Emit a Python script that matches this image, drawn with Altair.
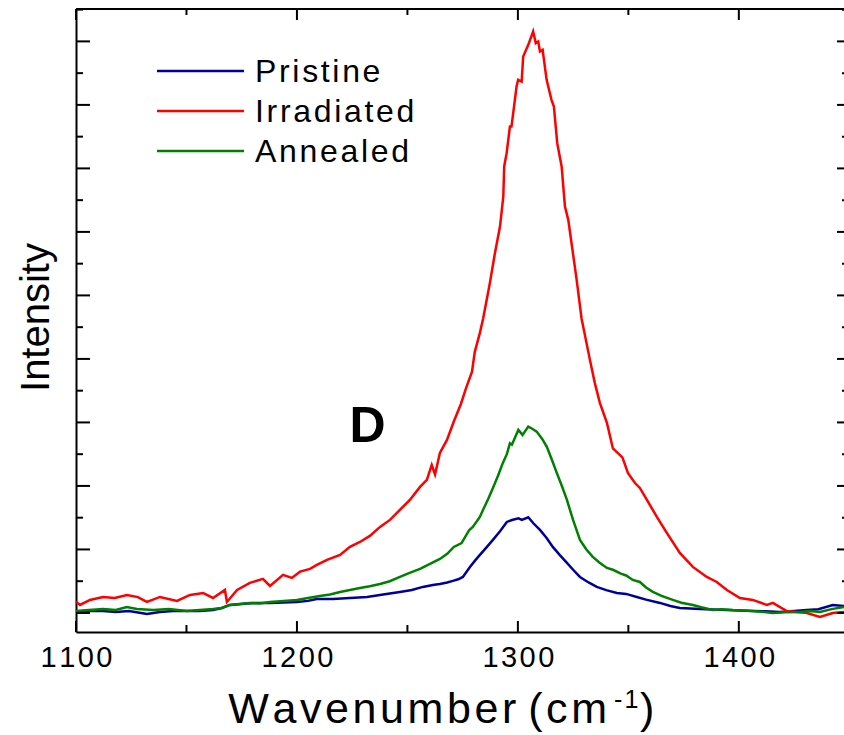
import altair as alt
import pandas as pd

# ---------------- data ----------------
series_names = ["Pristine", "Irradiated", "Annealed"]
series_colors = ["#000099", "#ff0000", "#008000"]

pristine = [
    (1100, 16), (1106, 31), (1112.2, 31), (1118, 16), (1124, 31), (1132.1, -16),
    (1138, 16), (1144, 31), (1150.2, 31), (1156, 31), (1162, 47), (1166, 79),
    (1169.7, 126), (1175, 142), (1180.1, 158), (1187.8, 158), (1194, 165),
    (1200, 173), (1205, 190), (1209, 220), (1216.3, 220), (1224, 236),
    (1231.7, 252), (1239, 290), (1246.6, 331), (1252, 362), (1257, 410),
    (1261.5, 440), (1264.7, 455), (1268, 480), (1270.6, 505), (1273, 530),
    (1275.1, 567), (1278.3, 725), (1280.5, 820), (1282.8, 914), (1285.5, 1020),
    (1288.7, 1150), (1292, 1290), (1295, 1433), (1297.3, 1464), (1300.3, 1491),
    (1301.8, 1465), (1304.7, 1507), (1307, 1412), (1310, 1307), (1313, 1180),
    (1315.8, 1040), (1319, 910), (1322.2, 788), (1325, 680), (1328.1, 567),
    (1332, 480), (1335.7, 410), (1340, 360), (1344.8, 315), (1349, 300),
    (1353.8, 252), (1358, 210), (1364.3, 158), (1369, 110), (1373.3, 79),
    (1378, 70), (1382.4, 63), (1388, 55), (1394.6, 47), (1400, 40),
    (1406.3, 31), (1412, 25), (1418.6, 16), (1425, 30), (1430.8, 47),
    (1436, 60), (1442.5, 126), (1447.6, 110),
]

irradiated = [
    (1100, 178), (1101.8, 126), (1106.3, 205), (1112.2, 252), (1117.5, 236),
    (1123.1, 284), (1128, 250), (1132.1, 173), (1138, 252), (1145.7, 189),
    (1151.6, 284), (1157.5, 315), (1162, 236), (1167.4, 362), (1168.3, 173),
    (1172.9, 362), (1178.7, 473), (1184.6, 536), (1187.8, 425), (1193.7, 599),
    (1197.7, 551), (1201.4, 650), (1205.9, 693), (1209, 756), (1213.6, 835),
    (1219.5, 914), (1224, 1040), (1228.5, 1118), (1233, 1213), (1237.6, 1355),
    (1242.1, 1465), (1246.6, 1622), (1251.1, 1780), (1255.7, 1985),
    (1258.8, 2095), (1261, 2330), (1262.5, 2180), (1264.7, 2520),
    (1267.9, 2725), (1271, 3015), (1274.2, 3290), (1276.5, 3536),
    (1279.2, 3796), (1280.5, 4111), (1282.8, 4410), (1284.3, 4641),
    (1287.3, 5193), (1289.6, 5665), (1291.9, 6084), (1293.4, 6557),
    (1293.8, 7030), (1294.9, 7240), (1296.4, 7659), (1297.1, 7659),
    (1299.4, 8289), (1300.1, 8395), (1301.7, 8368), (1302.4, 8762),
    (1304.7, 8946), (1306.9, 9156), (1308.1, 8973), (1309.2, 8998),
    (1310, 8841), (1311.2, 8867), (1313, 8395), (1315.2, 8080), (1316.3, 7974),
    (1317.8, 7398), (1319.8, 7030), (1321.3, 6399), (1322.8, 6190),
    (1326.6, 5245), (1328.8, 4641), (1332.6, 3985), (1334.8, 3623),
    (1337.1, 3308), (1340.3, 2993), (1343, 2590), (1347.3, 2450),
    (1349.8, 2205), (1352.9, 2050), (1355.2, 1969), (1358.4, 1780),
    (1362.9, 1512), (1367.4, 1260), (1373.3, 945), (1379.2, 725),
    (1385.5, 567), (1390, 488), (1394.6, 362), (1400.5, 236), (1406.3, 205),
    (1412.7, 126), (1415.4, 158), (1421.7, 31), (1430.8, 0), (1436.7, -63),
    (1442.5, 0), (1447.6, 16),
]

annealed = [
    (1100, 31), (1106, 47), (1112.2, 63), (1118, 47), (1123, 94), (1127.6, 63),
    (1135, 47), (1142, 63), (1150.2, 31), (1156, 47), (1162, 63), (1166, 79),
    (1169.7, 126), (1174, 142), (1178.7, 158), (1183, 150), (1187.8, 173),
    (1194, 189), (1200, 205), (1205, 236), (1210.4, 268), (1215, 290),
    (1219.5, 331), (1224, 362), (1228.5, 394), (1233, 420), (1237.6, 457),
    (1242, 500), (1246.6, 567), (1251, 630), (1255.7, 693), (1260, 770),
    (1264.7, 850), (1268, 930), (1271, 1040), (1274.5, 1100), (1278, 1307),
    (1279.6, 1355), (1282.8, 1512), (1284.2, 1622), (1286.5, 1790),
    (1288.7, 1969), (1291, 2160), (1293.2, 2363), (1295, 2500), (1296.4, 2672),
    (1297.3, 2650), (1300.2, 2882), (1302.1, 2804), (1304.7, 2935),
    (1306.5, 2900), (1308.5, 2856), (1311, 2740), (1313.1, 2615),
    (1315.3, 2420), (1317.6, 2205), (1320, 1990), (1322.2, 1780), (1325, 1460),
    (1328.1, 1150), (1331, 1000), (1333.9, 882), (1337, 790), (1340.3, 709),
    (1343, 680), (1346.6, 620), (1349, 590), (1352, 520), (1355.2, 488),
    (1358, 400), (1361.1, 331), (1365, 270), (1370.1, 205), (1374, 160),
    (1379.2, 126), (1383, 90), (1388.2, 47), (1392, 60), (1397.3, 47),
    (1402, 40), (1406.3, 31), (1410, 20), (1415.4, 0), (1421, 10),
    (1427.6, 16), (1432, 30), (1436.7, 16), (1442, 60), (1447.6, 94),
]

x_major = [1100, 1200, 1300, 1400]
x_minor = [1150, 1250, 1350]
y_major = [0, 1000, 2000, 3000, 4000, 5000, 6000, 7000, 8000, 9000]
y_minor = [500, 1500, 2500, 3500, 4500, 5500, 6500, 7500, 8500, 9500]

x_title_sup = "-1"
x_title_end = ")"
y_title = "Intensity"

annotation = [{"w": 1232, "c": 2693, "t": "D"}]

# ---------------- chart ----------------
W, H = 768, 623
FONT = "Liberation Sans"
HS = "\u200a"


def spaced(s):
    return HS.join(list(s))


rows = []
for name, pts in zip(series_names, [pristine, irradiated, annealed]):
    for w, c in pts:
        rows.append({"w": w, "c": c, "series": name})
df = pd.DataFrame(rows)

xs = alt.Scale(domain=[1100, 1447.6], nice=False, zero=False)
ys = alt.Scale(domain=[-300, 9510], nice=False, zero=False)

lines = alt.Chart(df).mark_line(strokeWidth=2.5).encode(
    x=alt.X(
        "w:Q", scale=xs, title=None,
        axis=alt.Axis(
            values=x_major, ticks=False, grid=False, domainWidth=2,
            domainColor="black", labelFont=FONT, labelFontSize=29,
            labelColor="black", labelPadding=11, format="d",
            labelExpr="join(split(datum.label, ''), '" + HS + "')",
            labelFlush=False, labelOverlap=False,
        ),
    ),
    y=alt.Y(
        "c:Q", scale=ys, title=y_title,
        axis=alt.Axis(
            labels=False, ticks=False, grid=False, domainWidth=2,
            domainColor="black", titleFont=FONT,
            titleFontSize=40, titleFontWeight="normal", titleColor="black",
            titleX=-28, titleY=308, titleAngle=-90,
            titleBaseline="alphabetic", titleAlign="center",
        ),
    ),
    color=alt.Color(
        "series:N",
        scale=alt.Scale(domain=series_names, range=series_colors),
        legend=None,
    ),
)


def tick_layer(vals, vertical, **enc):
    if vertical:
        d = pd.DataFrame({"w": vals})
        return alt.Chart(d).mark_rule(color="black", strokeWidth=2).encode(
            x=alt.X("w:Q", scale=xs, title=None), **enc)
    d = pd.DataFrame({"c": vals})
    return alt.Chart(d).mark_rule(color="black", strokeWidth=2).encode(
        y=alt.Y("c:Q", scale=ys, title=y_title), **enc)


ticks = [
    tick_layer(x_major, True, y=alt.value(H), y2=alt.value(H - 11)),
    tick_layer(x_minor, True, y=alt.value(H), y2=alt.value(H - 7)),
    tick_layer(x_major, True, y=alt.value(0), y2=alt.value(11)),
    tick_layer(x_minor, True, y=alt.value(0), y2=alt.value(6)),
    tick_layer(y_major, False, x=alt.value(0), x2=alt.value(14)),
    tick_layer(y_minor, False, x=alt.value(0), x2=alt.value(7)),
    tick_layer(y_major, False, x=alt.value(W), x2=alt.value(W - 7)),
    tick_layer(y_minor, False, x=alt.value(W), x2=alt.value(W - 2)),
]

top_line = alt.Chart(pd.DataFrame({"k": [0]})).mark_rule(
    color="black", strokeWidth=2
).encode(x=alt.value(0), x2=alt.value(W), y=alt.value(0))

# x-axis title built from three text pieces (main, superscript, closing)
title_df = pd.DataFrame({
    "main": [spaced("Wavenumber") + "  " + spaced("(cm")],
    "sup": [spaced(x_title_sup)],
    "end": [x_title_end],
})
title_main = alt.Chart(title_df).mark_text(
    font=FONT, fontSize=43, color="black", align="right", baseline="alphabetic"
).encode(x=alt.value(531), y=alt.value(714), text="main:N")
title_sup = alt.Chart(title_df).mark_text(
    font=FONT, fontSize=25, color="black", align="left", baseline="alphabetic"
).encode(x=alt.value(538), y=alt.value(699), text="sup:N")
title_end = alt.Chart(title_df).mark_text(
    font=FONT, fontSize=43, color="black", align="left", baseline="alphabetic"
).encode(x=alt.value(564), y=alt.value(714), text="end:N")

legend_layers = []
for i, (name, col) in enumerate(zip(series_names, series_colors)):
    ld = pd.DataFrame({"series": [name], "label": [spaced(name)]})
    yv = 62 + 40 * i
    legend_layers.append(
        alt.Chart(ld).mark_rule(color=col, strokeWidth=2.5).encode(
            x=alt.value(81), x2=alt.value(168), y=alt.value(yv)
        )
    )
    legend_layers.append(
        alt.Chart(ld).mark_text(
            font=FONT, fontSize=32, color="black", align="left",
            baseline="middle", dy=1
        ).encode(x=alt.value(179), y=alt.value(yv), text="label:N")
    )

ann = alt.Chart(pd.DataFrame(annotation)).mark_text(
    font=FONT, fontSize=50, fontWeight="bold", color="black",
    align="center", baseline="alphabetic"
).encode(
    x=alt.X("w:Q", scale=xs, title=None),
    y=alt.Y("c:Q", scale=ys, title=y_title),
    text="t:N",
)

chart = alt.layer(
    lines, *ticks, top_line, ann, title_main, title_sup, title_end,
    *legend_layers
).properties(
    width=W, height=H,
    autosize=alt.AutoSizeParams(type="none"),
    padding={"left": 76, "top": 9, "right": 0, "bottom": 103},
    background="white",
).configure_view(stroke=None).configure_axisX(
    labelFontSize=29, labelFont=FONT, labelColor="black", labelPadding=11
)

chart.save("out.html", embed_options={"renderer": "svg", "actions": False})
